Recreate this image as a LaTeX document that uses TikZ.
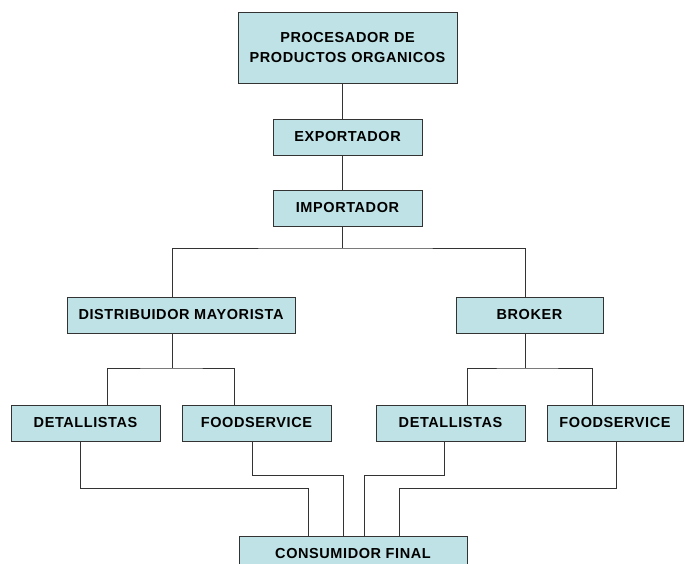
\documentclass[tikz,border=0pt]{standalone}
\usepackage{fontspec}
\setmainfont{Liberation Sans}
\newfontfamily\rotulo[LetterSpace=4]{Liberation Sans}
\definecolor{cajafondo}{RGB}{190,226,229}
\definecolor{linea}{RGB}{51,51,51}
\tikzset{caja/.style={draw=linea, fill=cajafondo, line width=0.9pt, minimum height=36pt, inner sep=0pt, align=center, font=\rotulo\fontsize{14.5}{20}\selectfont\bfseries},
 enlace/.style={draw=linea, line width=0.9pt}}
\begin{document}
\begin{tikzpicture}[x=1pt,y=-1pt]
\useasboundingbox (0,0) rectangle (685,564);
\node[caja, minimum width=219pt, minimum height=71pt] (proc) at (347.5,47.5) {PROCESADOR DE\\PRODUCTOS ORGANICOS};
\node[caja, minimum width=149pt] (exp) at (347.5,137) {EXPORTADOR};
\node[caja, minimum width=149pt] (imp) at (347.5,208) {IMPORTADOR};
\node[caja, minimum width=228pt] (dist) at (181,315) {DISTRIBUIDOR MAYORISTA};
\node[caja, minimum width=147pt] (brk) at (529.5,315) {BROKER};
\node[caja, minimum width=149pt] (det1) at (85.5,423) {DETALLISTAS};
\node[caja, minimum width=149pt] (food1) at (256.5,423) {FOODSERVICE};
\node[caja, minimum width=149pt] (det2) at (450.5,423) {DETALLISTAS};
\node[caja, minimum width=136pt] (food2) at (615,423) {FOODSERVICE};
\node[caja, minimum width=228pt] (cons) at (353,554) {CONSUMIDOR FINAL};
\coordinate (j1) at (342,248);
\coordinate (j2) at (172,368);
\coordinate (j3) at (525,368);
\coordinate (b1) at (308,488);
\coordinate (b2) at (343,475);
\coordinate (b3) at (364,475);
\coordinate (b4) at (399,488);
\draw[enlace] ([xshift=-5.5pt]proc.south) -- ([xshift=-5.5pt]exp.north);
\draw[enlace] ([xshift=-5.5pt]exp.south) -- ([xshift=-5.5pt]imp.north);
\draw[enlace] ([xshift=-5.5pt]imp.south) -- (j1);
\draw[enlace] ([xshift=-9pt]dist.north) |- (j1) -| ([xshift=-4.5pt]brk.north);
\draw[enlace] ([xshift=-9pt]dist.south) -- (j2);
\draw[enlace] ([xshift=21.5pt]det1.north) |- (j2) -| ([xshift=-22.5pt]food1.north);
\draw[enlace] ([xshift=-4.5pt]brk.south) -- (j3);
\draw[enlace] ([xshift=16.5pt]det2.north) |- (j3) -| ([xshift=-23pt]food2.north);
\draw[enlace] ([xshift=-5.5pt]det1.south) |- (b1) -- (b1 |- cons.north);
\draw[enlace] ([xshift=-4.5pt]food1.south) |- (b2) -- (b2 |- cons.north);
\draw[enlace] ([xshift=-6pt]det2.south) |- (b3) -- (b3 |- cons.north);
\draw[enlace] ([xshift=1pt]food2.south) |- (b4) -- (b4 |- cons.north);
\end{tikzpicture}
\end{document}
